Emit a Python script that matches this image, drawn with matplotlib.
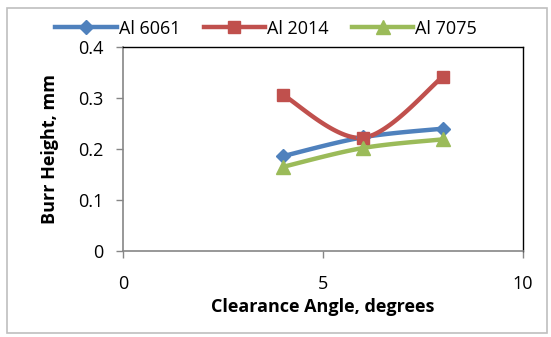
import numpy as np
import matplotlib
matplotlib.use('Agg')
import matplotlib.pyplot as plt
from matplotlib.patches import Rectangle

plt.rcParams['font.family'] = ['Open Sans', 'DejaVu Sans']

# clearance angle (degrees) vs burr height (mm)
angle = [4, 6, 8]
al6061 = [0.186, 0.223, 0.240]
al2014 = [0.306, 0.222, 0.342]
al7075 = [0.165, 0.202, 0.219]
names = ['Al 6061', 'Al 2014', 'Al 7075']

colors = ['#4F81BD', '#C0504D', '#9BBB59']
markers = ['D', 's', '^']
msizes = [7, 8.5, 9.5]


def smooth(x, y, n=40):
    # bezier smoothing through the points, like a spreadsheet "smoothed line"
    x = np.asarray(x, float)
    y = np.asarray(y, float)
    px = np.concatenate([[x[0]], x, [x[-1]]])
    py = np.concatenate([[y[0]], y, [y[-1]]])
    xs, ys = [], []
    t = np.linspace(0, 1, n)
    for i in range(1, len(px) - 2):
        p0 = np.array([px[i], py[i]])
        p3 = np.array([px[i + 1], py[i + 1]])
        p1 = p0 + (np.array([px[i + 1], py[i + 1]]) - np.array([px[i - 1], py[i - 1]])) / 6
        p2 = p3 - (np.array([px[i + 2], py[i + 2]]) - np.array([px[i], py[i]])) / 6
        b = ((1 - t) ** 3)[:, None] * p0 + (3 * (1 - t) ** 2 * t)[:, None] * p1 \
            + (3 * (1 - t) * t ** 2)[:, None] * p2 + (t ** 3)[:, None] * p3
        xs.extend(b[:, 0])
        ys.extend(b[:, 1])
    return xs, ys


fig = plt.figure(figsize=(5.51, 3.37), dpi=100)
fig.patches.append(Rectangle((0.012, 0.012), 0.98, 0.965, transform=fig.transFigure,
                             fill=False, edgecolor='#BFBFBF', linewidth=1.2))
ax = fig.add_axes([0.2232, 0.2552, 0.7260, 0.6053])

handles = []
for vals, c, m, ms, nm in zip([al6061, al2014, al7075], colors, markers, msizes, names):
    sx, sy = smooth(angle, vals)
    ax.plot(sx, sy, color=c, linewidth=3.2, solid_capstyle='round', zorder=3)
    ax.plot(angle, vals, linestyle='none', marker=m, markersize=ms, color=c,
            markeredgecolor=c, zorder=4)
    h, = ax.plot([], [], color=c, linewidth=3.2, marker=m, markersize=ms, label=nm)
    handles.append(h)

ax.set_xlim(0, 10)
ax.set_ylim(0, 0.4)
ax.set_xticks([0, 5, 10])
ax.set_yticks([0, 0.1, 0.2, 0.3, 0.4])
ax.set_yticklabels(['0', '0.1', '0.2', '0.3', '0.4'])
ax.tick_params(axis='both', labelsize=13, direction='out', length=5, width=1,
               color='#868686', pad=9)
ax.tick_params(axis='x', pad=12)
for s in ['left', 'bottom']:
    ax.spines[s].set_color('#868686')
    ax.spines[s].set_linewidth(1.2)
for s in ['top', 'right']:
    ax.spines[s].set_color('black')
    ax.spines[s].set_linewidth(1)

ax.set_xlabel('Clearance Angle, degrees', fontsize=13, fontweight='bold', labelpad=4)
ax.set_ylabel('Burr Height, mm', fontsize=13, fontweight='bold', labelpad=14)

fig.legend(handles=handles, loc='upper center', bbox_to_anchor=(0.483, 0.99), ncol=3,
           frameon=False, fontsize=13, handlelength=3.4, handletextpad=0.1,
           columnspacing=1.3)

fig.savefig('out.png', dpi=100)
